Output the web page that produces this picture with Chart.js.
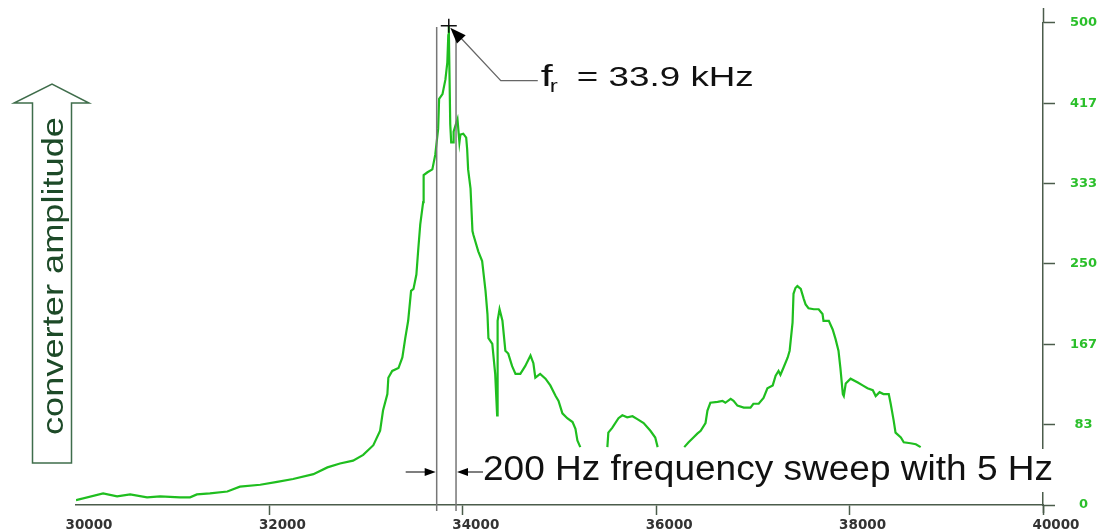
<!DOCTYPE html>
<html>
<head>
<meta charset="utf-8">
<script src="https://cdn.jsdelivr.net/npm/chart.js"></script>
<style>
html, body { margin: 0; padding: 0; background: #fff; }
canvas { display: block; }
</style>
</head>
<body>
<canvas id="myChart" width="1101" height="532"></canvas>
<script>
// frequency (Hz) and converter amplitude, null = no trace
var freqHz = [
    30000, 30280, 30425, 30560, 30735, 30870, 31075, 31180, 31250, 31385,
    31565, 31695, 31905, 32080, 32245, 32455, 32600, 32730, 32865, 32970,
    33075, 33145, 33175, 33220, 33230, 33270, 33335, 33375, 33405, 33435,
    33465, 33490, 33520, 33540, 33560, 33590, 33595, 33635, 33685, 33715,
    33745, 33755, 33790, 33820, 33840, 33850, 33855, 33870, 33880, 33900,
    33905, 33935, 33945, 33965, 33975, 34005, 34035, 34045, 34055, 34080,
    34100, 34110, 34160, 34200, 34235, 34255, 34265, 34305, 34335, 34355,
    34360, 34380, 34410, 34440, 34470, 34510, 34545, 34595, 34645, 34700,
    34730, 34750, 34800, 34855, 34905, 34960, 34990, 35030, 35080, 35135,
    35165, 35185, 35215,
    35350,
    35495, 35505, 35545, 35610, 35650, 35700, 35755, 35805, 35870, 35940,
    35990, 36015,
    36150,
    36290, 36335, 36385, 36425, 36460, 36510, 36530, 36560, 36635, 36685,
    36715, 36770, 36800, 36840, 36905, 36975, 37005, 37060, 37110, 37150,
    37205, 37235, 37265, 37285, 37315, 37360, 37380, 37410, 37420, 37440,
    37460, 37495, 37525, 37545, 37575, 37630, 37680, 37720, 37730, 37785,
    37825, 37855, 37885, 37905, 37930, 37940, 37960, 38010, 38085, 38135,
    38185, 38240, 38270, 38310, 38350, 38405, 38425, 38455, 38475, 38530,
    38560, 38630, 38685, 38735
];
var amplitude = [
    5, 12, 9, 11, 8, 9, 8, 8, 11, 12,
    14, 19, 21, 24, 27, 32, 39, 43, 46, 52,
    62, 77, 98, 115, 132, 139, 142, 153, 173, 191,
    222, 224, 239, 266, 291, 314, 342, 345, 348, 363,
    390, 421, 426, 441, 459, 487, 497, 395, 376, 376,
    387, 397, 400, 376, 384, 385, 381, 369, 348, 328,
    284, 280, 263, 253, 222, 198, 173, 167, 136, 93,
    191, 203, 191, 160, 157, 144, 136, 136, 144, 155,
    147, 132, 136, 131, 124, 113, 108, 95, 90, 86,
    79, 67, 60,
    null,
    60, 75, 80, 90, 93, 91, 92, 89, 85, 77,
    70, 60,
    null,
    60, 65, 70, 74, 77, 85, 98, 106, 107, 108,
    106, 110, 108, 103, 101, 101, 105, 105, 111, 121,
    124, 134, 139, 135, 142, 153, 160, 189, 219, 225,
    227, 224, 214, 208, 204, 203, 203, 198, 191, 191,
    182, 172, 160, 142, 115, 113, 126, 131, 127, 124,
    121, 119, 113, 117, 115, 115, 105, 88, 75, 70,
    65, 64, 63, 60
];

var xTickValues = [30000, 32000, 34000, 36000, 38000, 40000];
var xTickLabels = ["30000", "32000", "34000", "36000", "38000", "40000"];
var yTickValues = [0, 83.33, 166.67, 250, 333.33, 416.67, 500];
var yTickLabels = ["0", "83", "167", "250", "333", "417", "500"];

var peakFreq = 33855;
var peakAmp = 497;
var sweepFreqs = [33730, 33930];

var axisColor = "#4b5c4b";
var lineGreen = "#1fbe1f";
var tickGreen = "#2bbf2b";

var points = [];
for (var i = 0; i < freqHz.length; i++) {
    points.push({ x: freqHz[i], y: amplitude[i] });
}

function arrowHead(ctx, tipX, tipY, fromX, fromY, len, half) {
    var a = Math.atan2(tipY - fromY, tipX - fromX);
    var bx = tipX - len * Math.cos(a);
    var by = tipY - len * Math.sin(a);
    ctx.beginPath();
    ctx.moveTo(tipX, tipY);
    ctx.lineTo(bx + half * Math.sin(a), by - half * Math.cos(a));
    ctx.lineTo(bx - half * Math.sin(a), by + half * Math.cos(a));
    ctx.closePath();
    ctx.fill();
}

// draws text squeezed/stretched to a given width
function fitText(ctx, str, x, y, size, width, color) {
    ctx.font = size + 'px "Liberation Sans", Arial, sans-serif';
    var w = ctx.measureText(str).width;
    ctx.save();
    ctx.translate(x, y);
    ctx.scale(width / w, 1);
    ctx.fillStyle = color;
    ctx.textAlign = "left";
    ctx.textBaseline = "alphabetic";
    ctx.fillText(str, 0, 0);
    ctx.restore();
}

var notes = {
    id: "notes",
    afterDraw: function (chart) {
        var ctx = chart.ctx;
        var xs = chart.scales.x;
        var ys = chart.scales.y;
        var area = chart.chartArea;

        ctx.save();

        // right axis runs a little past both ends
        ctx.strokeStyle = axisColor;
        ctx.lineWidth = 1.5;
        ctx.beginPath();
        ctx.moveTo(area.right + 0.5, 8);
        ctx.lineTo(area.right + 0.5, area.top);
        ctx.moveTo(area.right + 0.5, area.bottom);
        ctx.lineTo(area.right + 0.5, area.bottom + 8);
        ctx.stroke();

        // sweep window lines
        var x1 = xs.getPixelForValue(sweepFreqs[0]);
        var x2 = xs.getPixelForValue(sweepFreqs[1]);
        ctx.strokeStyle = "#777";
        ctx.lineWidth = 1.5;
        ctx.beginPath();
        ctx.moveTo(x1, 27);
        ctx.lineTo(x1, 511);
        ctx.moveTo(x2, 33);
        ctx.lineTo(x2, 511);
        ctx.stroke();

        // peak marker
        var px = xs.getPixelForValue(peakFreq);
        var py = ys.getPixelForValue(peakAmp);
        ctx.strokeStyle = "#111";
        ctx.lineWidth = 1.5;
        ctx.beginPath();
        ctx.moveTo(px - 8, py);
        ctx.lineTo(px + 8, py);
        ctx.moveTo(px, py - 7);
        ctx.lineTo(px, py + 7);
        ctx.stroke();

        // leader to f_r label
        var ex = px + 52;
        var ey = py + 55;
        ctx.strokeStyle = "#666";
        ctx.lineWidth = 1.3;
        ctx.beginPath();
        ctx.moveTo(px + 10, py + 10);
        ctx.lineTo(ex, ey);
        ctx.lineTo(ex + 37, ey);
        ctx.stroke();
        ctx.fillStyle = "#000";
        arrowHead(ctx, px + 1.5, py + 2, ex, ey, 16, 6);

        fitText(ctx, "f", ex + 40, 86, 29, 12, "#111");
        fitText(ctx, "r", ex + 49, 92, 18, 8, "#111");
        fitText(ctx, "= 33.9 kHz", ex + 76, 86, 28, 177, "#111");

        // sweep arrows and caption
        ctx.fillStyle = "#fff";
        ctx.fillRect(480, 449, 582, 43);
        ctx.strokeStyle = "#000";
        ctx.fillStyle = "#000";
        ctx.lineWidth = 1.2;
        ctx.beginPath();
        ctx.moveTo(x1 - 31, 472);
        ctx.lineTo(x1 - 8, 472);
        ctx.moveTo(x2 + 27, 472);
        ctx.lineTo(x2 + 8, 472);
        ctx.stroke();
        arrowHead(ctx, x1 - 1, 472, x1 - 31, 472, 11, 4);
        arrowHead(ctx, x2 + 1, 472, x2 + 27, 472, 11, 4);
        fitText(ctx, "200 Hz frequency sweep with 5 Hz", 483, 480, 35, 570, "#111");

        // hollow up arrow with the axis title
        ctx.strokeStyle = "#3f6d4b";
        ctx.lineWidth = 1.5;
        ctx.beginPath();
        ctx.moveTo(32.5, 463);
        ctx.lineTo(32.5, 103);
        ctx.lineTo(14, 103);
        ctx.lineTo(52, 84);
        ctx.lineTo(89, 103);
        ctx.lineTo(71.5, 103);
        ctx.lineTo(71.5, 463);
        ctx.closePath();
        ctx.stroke();

        ctx.save();
        ctx.translate(63, 435);
        ctx.rotate(-Math.PI / 2);
        fitText(ctx, "converter amplitude", 0, 0, 29, 318, "#1d4a28");
        ctx.restore();

        ctx.restore();
    }
};

var ctx = document.getElementById("myChart").getContext("2d");
var myChart = new Chart(ctx, {
    type: "line",
    data: {
        datasets: [
            {
                data: points,
                borderColor: lineGreen,
                borderWidth: 2.2,
                pointRadius: 0,
                fill: false,
                tension: 0,
                spanGaps: false
            }
        ]
    },
    options: {
        responsive: false,
        animation: false,
        devicePixelRatio: 1,
        layout: { padding: { left: 76, top: 20, right: 0, bottom: 0 } },
        plugins: {
            legend: { display: false },
            tooltip: { enabled: false }
        },
        scales: {
            x: {
                type: "linear",
                position: "bottom",
                min: 30000,
                max: 40000,
                afterBuildTicks: function (scale) {
                    scale.ticks = xTickValues.map(function (v) { return { value: v }; });
                },
                afterFit: function (scale) { scale.height = 27; },
                border: { color: axisColor, width: 1.5 },
                grid: {
                    drawOnChartArea: false,
                    tickLength: 10,
                    tickWidth: 1.5,
                    tickColor: function (c) {
                        return c.tick && c.tick.value === 30000 ? "rgba(0,0,0,0)" : axisColor;
                    }
                },
                ticks: {
                    autoSkip: false,
                    maxRotation: 0,
                    labelOffset: 13,
                    padding: 2,
                    color: "#333",
                    font: { family: "'DejaVu Sans', Verdana, sans-serif", size: 13.5, weight: "bold" },
                    callback: function (v, i) { return xTickLabels[i]; }
                }
            },
            y: {
                position: "right",
                min: 0,
                max: 500,
                afterBuildTicks: function (scale) {
                    scale.ticks = yTickValues.map(function (v) { return { value: v }; });
                },
                afterFit: function (scale) { scale.width = 58; },
                border: { color: axisColor, width: 1.5 },
                grid: {
                    drawOnChartArea: false,
                    tickLength: 12,
                    tickWidth: 1.5,
                    tickColor: axisColor
                },
                ticks: {
                    crossAlign: "center",
                    padding: 15,
                    color: tickGreen,
                    font: { family: "'DejaVu Sans', Verdana, sans-serif", size: 13, weight: "bold" },
                    callback: function (v, i) { return yTickLabels[i]; }
                }
            }
        }
    },
    plugins: [notes]
});
</script>
</body>
</html>
